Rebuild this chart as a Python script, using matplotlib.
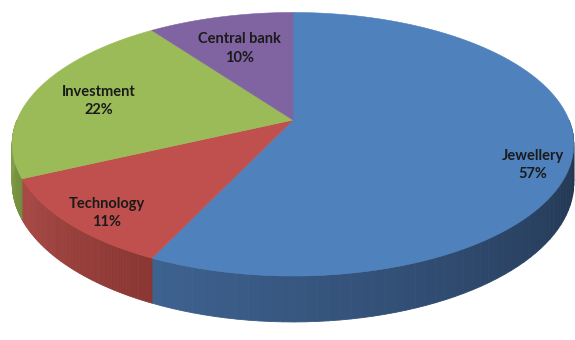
import matplotlib.pyplot as plt
import numpy as np
from matplotlib.patches import Polygon
from matplotlib.colors import to_rgb

# slice data (clockwise from 12 o'clock, like Excel)
labels = ['Jewellery', 'Technology', 'Investment', 'Central bank']
shares = [57, 11, 22, 10]

top_colors = ['#4f81bd', '#c0504d', '#9bbb59', '#8064a2']
side_light = ['#3e6290', '#a84a46', '#87a34c', '#6e568c']
side_dark = ['#1f3049', '#8a3633', '#728d3e', '#5a4574']

# label placement (fraction of radius, vertical nudge in px)
label_r = [0.86, 0.85, 0.75, 0.7]
label_dy = [20, 7, 4, 4]

# perspective projection of the pie disc into pixel space
CX, CY = 293, 120
RX, RY = 276, 127.3
K = 0.184
DEPTH = 37.5


def project(theta, r=1.0, drop=0.0):
    t = np.radians(theta)
    u = r * np.sin(t)
    v = r * np.cos(t)
    w = 1 + K * v
    x = CX + RX * u / w
    y = CY - RY * v / w + drop / w
    return x, y


def mix(c1, c2, f):
    a, b = np.array(to_rgb(c1)), np.array(to_rgb(c2))
    return tuple(a + (b - a) * f)


fig = plt.figure(figsize=(5.75, 3.4), dpi=100)
ax = fig.add_axes([0, 0, 1, 1])
ax.set_xlim(0, 575)
ax.set_ylim(340, 0)
ax.axis('off')

bounds = np.concatenate([[0], np.cumsum(shares)]) / sum(shares) * 360

# side walls (only the front half is visible)
for i in range(len(shares)):
    lo = max(bounds[i], 90)
    hi = min(bounds[i + 1], 270)
    if lo >= hi:
        continue
    ts = np.linspace(lo, hi, 60)
    for t0, t1 in zip(ts[:-1], ts[1:]):
        f = ((t0 + t1) / 2 - lo) / (hi - lo)
        col = mix(side_dark[i], side_light[i], f)
        x0, y0 = project(t0)
        x1, y1 = project(t1)
        _, b0 = project(t0, drop=DEPTH)
        _, b1 = project(t1, drop=DEPTH)
        ax.add_patch(Polygon([(x0, y0), (x1, y1), (x1, b1), (x0, b0)],
                             closed=True, facecolor=col, edgecolor=col, lw=0.6))

# top faces
for i in range(len(shares)):
    ts = np.linspace(bounds[i], bounds[i + 1], 200)
    xs, ys = project(ts)
    pts = [(CX, CY)] + list(zip(xs, ys))
    ax.add_patch(Polygon(pts, closed=True, facecolor=top_colors[i],
                         edgecolor=top_colors[i], lw=0.4))

# data labels
for i in range(len(shares)):
    mid = (bounds[i] + bounds[i + 1]) / 2
    lx, ly = project(mid, r=label_r[i])
    ax.text(lx, ly + label_dy[i], f'{labels[i]}\n{shares[i]}%',
            ha='center', va='center', fontsize=10.5, fontweight='bold',
            family='Lato', color='#1a1a1a', linespacing=1.4)

fig.savefig('out.png', dpi=100)
